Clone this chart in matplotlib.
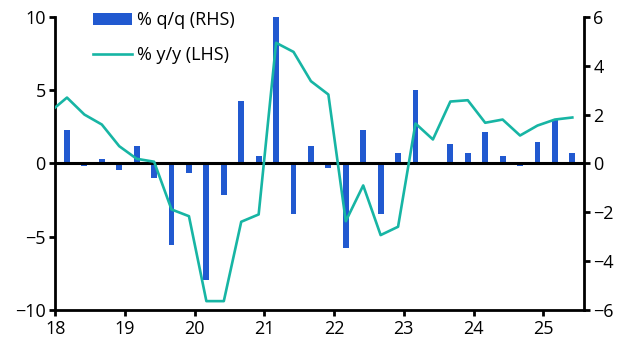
import numpy as np
import matplotlib.pyplot as plt

plt.rcParams['font.family'] = ['Open Sans', 'DejaVu Sans']

# Data input (quarters 2018Q1 - 2025Q2; line also has 2017Q4)
qq = [1.39, -0.11, 0.2, -0.27, 0.71, -0.61, -3.32, -0.41, -4.78, -1.3,
      2.58, 0.3, 6.0, -2.09, 0.71, -0.2, -3.48, 1.39, -2.09, 0.41,
      3.0, 0.08, 0.78, 0.41, 1.31, 0.29, -0.11, 0.9, 1.77, 0.41]
yy = [3.5, 4.5, 3.34, 2.66, 1.18, 0.32, 0.12, -3.14, -3.6, -9.4, -9.4,
      -3.98, -3.48, 8.24, 7.62, 5.62, 4.71, -3.94, -1.5, -4.89, -4.32,
      2.73, 1.64, 4.23, 4.32, 2.78, 3.0, 1.91, 2.59, 3.0, 3.14]
year_ticks = [18, 19, 20, 21, 22, 23, 24, 25]

# quarter positions (two months into each quarter)
x_bar = 18 + np.arange(len(qq)) / 4 + 1 / 6
x_line = 18 + np.arange(-1, len(qq)) / 4 + 1 / 6

bar_col = '#2159d0'
line_col = '#17b5a4'

fig = plt.figure(figsize=(6.29, 3.55), dpi=100)
ax = fig.add_axes([0.088, 0.127, 0.84, 0.825])
ax2 = ax.twinx()

b = ax2.bar(x_bar, qq, width=0.085, color=bar_col, label='% q/q (RHS)', zorder=2)
l, = ax.plot(x_line, yy, color=line_col, lw=1.9, label='% y/y (LHS)', zorder=3)
ax.set_zorder(ax2.get_zorder() + 1)
ax.patch.set_visible(False)
ax.axhline(0, color='black', lw=2.2, zorder=1)

ax.set_xlim(18, 25.58)
ax.set_ylim(-10, 10)
ax2.set_ylim(-6, 6)
ax.set_yticks([-10, -5, 0, 5, 10])
ax2.set_yticks([-6, -4, -2, 0, 2, 4, 6])
ax.set_xticks(year_ticks)
ax.set_xticklabels([str(y) for y in year_ticks])

for a in (ax, ax2):
    a.spines['top'].set_visible(False)
    for s in ('left', 'right', 'bottom'):
        a.spines[s].set_linewidth(2)
    a.tick_params(width=2, length=4, labelsize=13, colors='black', pad=3)
ax.spines['right'].set_visible(False)
ax2.spines['left'].set_visible(False)
ax2.spines['bottom'].set_visible(False)

ax.legend([b, l], ['% q/q (RHS)', '% y/y (LHS)'], loc='upper left',
          bbox_to_anchor=(0.04, 1.075), frameon=False, fontsize=13,
          handlelength=2.2, handletextpad=0.25, labelspacing=0.95)

fig.savefig('out.png', dpi=100)
